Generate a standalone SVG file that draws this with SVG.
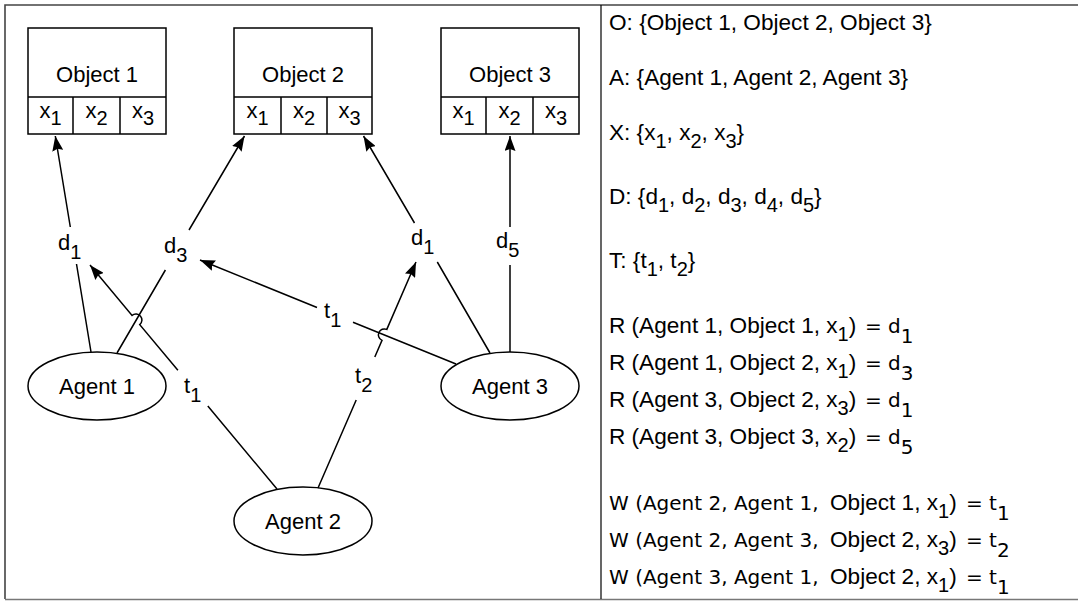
<svg xmlns="http://www.w3.org/2000/svg" width="1078" height="601" viewBox="0 0 1078 601">
  <style>
    text { font-family: "Liberation Sans", Arial, Helvetica, sans-serif; font-size: 22px; fill: #000; }
    .defs text { font-size: 22.6px; }
    .lg { font-family: "DejaVu Sans", "Liberation Sans", sans-serif; font-size: 20px; }
    .s { font-size: 20px; }
    .sl { font-family: "DejaVu Sans", "Liberation Sans", sans-serif; font-size: 20px; }
    .mid { text-anchor: middle; }
    .box { fill: #fff; stroke: #000; stroke-width: 1.5; }
    .agent { fill: #fff; stroke: #000; stroke-width: 1.5; }
    .edge { fill: none; stroke: #000; stroke-width: 1.5; }
    .arrow { marker-end: url(#head); }
  </style>
  <defs>
    <marker id="head" markerUnits="userSpaceOnUse" viewBox="0 0 15 11" markerWidth="15" markerHeight="11" refX="15" refY="5.5" orient="auto">
      <path d="M0,0 L15,5.5 L0,11 L2,5.5 z" fill="#000"/>
    </marker>
  </defs>

  <rect width="1078" height="601" fill="#fff"/>

  <!-- table frame: graph cell on the left, definitions on the right -->
  <g id="frame">
    <path d="M5,599 L5,5 L1080,5" fill="none" stroke="#444" stroke-width="1.6"/>
    <path d="M5,599.5 L1080,599.5" fill="none" stroke="#777" stroke-width="1.5"/>
    <path d="M601,5 L601,599" fill="none" stroke="#000" stroke-width="1.2"/>
  </g>

  <!-- objects with their three attribute cells -->
  <g id="object1">
    <rect class="box" x="28" y="28" width="138" height="106"/>
    <path class="edge" d="M28,97 H166 M73,97 V134 M120,97 V134"/>
    <text class="mid" x="97" y="82">Object 1</text>
    <text class="mid" x="50.5" y="118">x<tspan class="s" dy="7">1</tspan></text>
    <text class="mid" x="96.5" y="118">x<tspan class="s" dy="7">2</tspan></text>
    <text class="mid" x="143" y="118">x<tspan class="s" dy="7">3</tspan></text>
  </g>
  <g id="object2">
    <rect class="box" x="234" y="28" width="138" height="106"/>
    <path class="edge" d="M234,97 H372 M281,97 V134 M327,97 V134"/>
    <text class="mid" x="303" y="82">Object 2</text>
    <text class="mid" x="257.5" y="118">x<tspan class="s" dy="7">1</tspan></text>
    <text class="mid" x="304" y="118">x<tspan class="s" dy="7">2</tspan></text>
    <text class="mid" x="349.5" y="118">x<tspan class="s" dy="7">3</tspan></text>
  </g>
  <g id="object3">
    <rect class="box" x="441" y="28" width="138" height="106"/>
    <path class="edge" d="M441,97 H579 M486,97 V134 M533,97 V134"/>
    <text class="mid" x="510" y="82">Object 3</text>
    <text class="mid" x="463.5" y="118">x<tspan class="s" dy="7">1</tspan></text>
    <text class="mid" x="509.5" y="118">x<tspan class="s" dy="7">2</tspan></text>
    <text class="mid" x="556" y="118">x<tspan class="s" dy="7">3</tspan></text>
  </g>

  <!-- agents -->
  <g id="agent1">
    <ellipse class="agent" cx="97" cy="386" rx="69" ry="34"/>
    <text class="mid" x="97" y="394">Agent 1</text>
  </g>
  <g id="agent2">
    <ellipse class="agent" cx="303" cy="521" rx="69" ry="34"/>
    <text class="mid" x="303" y="529">Agent 2</text>
  </g>
  <g id="agent3">
    <ellipse class="agent" cx="510" cy="386" rx="69" ry="34"/>
    <text class="mid" x="510" y="394">Agent 3</text>
  </g>

  <!-- relations (d) and trust links (t); breaks leave room for labels, arcs hop over crossings -->
  <g id="connectors">
    <path class="edge arrow" d="M91,352 L76.5,264 M70.3,227 L55.3,136"/>
    <path class="edge arrow" d="M117,353 L165.4,270 M189,230 L244.5,136"/>
    <path class="edge arrow" d="M490,353 L437.3,262 M414.5,223 L363.5,136"/>
    <path class="edge arrow" d="M510,352 L510,265 M510,227 L510,136"/>
    <path class="edge arrow" d="M456,364 L353,322.2 M317,307.5 L200,260"/>
    <path class="edge arrow" d="M277,489 L207.8,406.1 M177.9,370.3 L139.75,324.61 A6,6 0 0 0 132.05,315.39 L90,265"/>
    <path class="edge arrow" d="M318,488 L356.2,400 M374.8,357 L382,340.4 A6,6 0 0 1 386.8,329.4 L416,262"/>

    <text x="58" y="250">d<tspan class="s" dy="9">1</tspan></text>
    <text x="164" y="253">d<tspan class="s" dy="9">3</tspan></text>
    <text x="411" y="245">d<tspan class="s" dy="9">1</tspan></text>
    <text x="496" y="248">d<tspan class="s" dy="9">5</tspan></text>
    <text x="324" y="318">t<tspan class="s" dy="9">1</tspan></text>
    <text x="184" y="393">t<tspan class="s" dy="9">1</tspan></text>
    <text x="355" y="383">t<tspan class="s" dy="9">2</tspan></text>
  </g>

  <!-- definitions -->
  <g id="definitions" class="defs">
    <text x="609" y="30">O: {Object 1, Object 2, Object 3}</text>
    <text x="609" y="85">A: {Agent 1, Agent 2, Agent 3}</text>
    <text x="609" y="140">X: {x<tspan class="s" dy="8">1</tspan><tspan dy="-8">, x</tspan><tspan class="s" dy="8">2</tspan><tspan dy="-8">, x</tspan><tspan class="s" dy="8">3</tspan><tspan dy="-8">}</tspan></text>
    <text x="609" y="204">D: {d<tspan class="s" dy="8">1</tspan><tspan dy="-8">, d</tspan><tspan class="s" dy="8">2</tspan><tspan dy="-8">, d</tspan><tspan class="s" dy="8">3</tspan><tspan dy="-8">, d</tspan><tspan class="s" dy="8">4</tspan><tspan dy="-8">, d</tspan><tspan class="s" dy="8">5</tspan><tspan dy="-8">}</tspan></text>
    <text x="609" y="268">T: {t<tspan class="s" dy="8">1</tspan><tspan dy="-8">, t</tspan><tspan class="s" dy="8">2</tspan><tspan dy="-8">}</tspan></text>

    <text x="609" y="333">R (Agent 1, Object 1, x<tspan class="s" dy="8">1</tspan><tspan dy="-8">)</tspan><tspan class="lg" x="865">= d</tspan><tspan class="sl" dy="10">1</tspan></text>
    <text x="609" y="370">R (Agent 1, Object 2, x<tspan class="s" dy="8">1</tspan><tspan dy="-8">)</tspan><tspan class="lg" x="865">= d</tspan><tspan class="sl" dy="10">3</tspan></text>
    <text x="609" y="407">R (Agent 3, Object 2, x<tspan class="s" dy="8">3</tspan><tspan dy="-8">)</tspan><tspan class="lg" x="865">= d</tspan><tspan class="sl" dy="10">1</tspan></text>
    <text x="609" y="444">R (Agent 3, Object 3, x<tspan class="s" dy="8">2</tspan><tspan dy="-8">)</tspan><tspan class="lg" x="865">= d</tspan><tspan class="sl" dy="10">5</tspan></text>

    <text x="609" y="510"><tspan class="lg" font-size="20.5">W (Agent 2, Agent 1, </tspan><tspan x="830">Object 1, x</tspan><tspan class="s" dy="8">1</tspan><tspan dy="-8">)</tspan><tspan class="lg" x="966">= t</tspan><tspan class="sl" dy="10">1</tspan></text>
    <text x="609" y="547"><tspan class="lg" font-size="20.5">W (Agent 2, Agent 3, </tspan><tspan x="830">Object 2, x</tspan><tspan class="s" dy="8">3</tspan><tspan dy="-8">)</tspan><tspan class="lg" x="966">= t</tspan><tspan class="sl" dy="10">2</tspan></text>
    <text x="609" y="584"><tspan class="lg" font-size="20.5">W (Agent 3, Agent 1, </tspan><tspan x="830">Object 2, x</tspan><tspan class="s" dy="8">1</tspan><tspan dy="-8">)</tspan><tspan class="lg" x="966">= t</tspan><tspan class="sl" dy="10">1</tspan></text>
  </g>
</svg>
